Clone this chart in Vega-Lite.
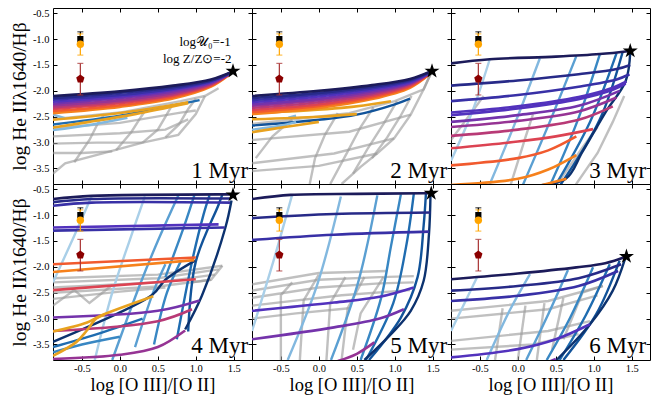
{
"$schema":"https://vega.github.io/schema/vega-lite/v6.json",
"padding":{"left":8,"top":7,"right":0,"bottom":0},
"data":{"values":[
{"p":1,"s":"1r1","k":"g","x":-0.88,"y":-2.55},{"p":1,"s":"1r1","k":"g","x":0,"y":-2.42},{"p":1,"s":"1r1","k":"g","x":0.8,"y":-2.2},{"p":1,"s":"1r1","k":"g","x":1.12,"y":-2.1},{"p":1,"s":"1r1","k":"g","x":1.3,"y":-1.95},
{"p":1,"s":"1r2","k":"g","x":-0.88,"y":-2.72},{"p":1,"s":"1r2","k":"g","x":0,"y":-2.62},{"p":1,"s":"1r2","k":"g","x":0.8,"y":-2.42},{"p":1,"s":"1r2","k":"g","x":1,"y":-2.38},
{"p":1,"s":"1r3","k":"g","x":-0.88,"y":-2.88},{"p":1,"s":"1r3","k":"g","x":0,"y":-2.82},{"p":1,"s":"1r3","k":"g","x":0.6,"y":-2.75},{"p":1,"s":"1r3","k":"g","x":0.9,"y":-2.55},
{"p":1,"s":"1r4","k":"g","x":-0.88,"y":-3.02},{"p":1,"s":"1r4","k":"g","x":-0.3,"y":-3.0},{"p":1,"s":"1r4","k":"g","x":0.3,"y":-3.0},
{"p":1,"s":"1r5","k":"g","x":-0.88,"y":-3.2},{"p":1,"s":"1r5","k":"g","x":-0.5,"y":-3.2},{"p":1,"s":"1r5","k":"g","x":-0.1,"y":-3.17},
{"p":1,"s":"1rb","k":"g","x":-0.88,"y":-3.6},{"p":1,"s":"1rb","k":"g","x":-0.72,"y":-3.4},{"p":1,"s":"1rb","k":"g","x":-0.2,"y":-3.2},{"p":1,"s":"1rb","k":"g","x":0.3,"y":-3.0},{"p":1,"s":"1rb","k":"g","x":0.77,"y":-2.85},{"p":1,"s":"1rb","k":"g","x":1,"y":-2.45},{"p":1,"s":"1rb","k":"g","x":1.12,"y":-2.1},
{"p":1,"s":"1c1","k":"g","x":-0.6,"y":-3.38},{"p":1,"s":"1c1","k":"g","x":-0.4,"y":-2.95},{"p":1,"s":"1c1","k":"g","x":-0.28,"y":-2.6},{"p":1,"s":"1c1","k":"g","x":-0.2,"y":-2.45},
{"p":1,"s":"1c2","k":"g","x":-0.05,"y":-3.15},{"p":1,"s":"1c2","k":"g","x":0.15,"y":-2.8},{"p":1,"s":"1c2","k":"g","x":0.28,"y":-2.5},{"p":1,"s":"1c2","k":"g","x":0.35,"y":-2.35},
{"p":1,"s":"1c3","k":"g","x":0.3,"y":-3.0},{"p":1,"s":"1c3","k":"g","x":0.5,"y":-2.75},{"p":1,"s":"1c3","k":"g","x":0.62,"y":-2.45},{"p":1,"s":"1c3","k":"g","x":0.7,"y":-2.25},
{"p":1,"s":"1c4","k":"g","x":0.6,"y":-2.9},{"p":1,"s":"1c4","k":"g","x":0.78,"y":-2.65},{"p":1,"s":"1c4","k":"g","x":0.9,"y":-2.35},{"p":1,"s":"1c4","k":"g","x":1,"y":-2.15},
{"p":1,"s":"1b1","k":"b5","x":-0.88,"y":-2.65},{"p":1,"s":"1b1","k":"b5","x":0,"y":-2.48},{"p":1,"s":"1b1","k":"b5","x":0.75,"y":-2.27},{"p":1,"s":"1b1","k":"b5","x":1.05,"y":-2.18},
{"p":1,"s":"1b2","k":"b2","x":-0.88,"y":-2.76},{"p":1,"s":"1b2","k":"b2","x":-0.4,"y":-2.66},{"p":1,"s":"1b2","k":"b2","x":0.1,"y":-2.52},
{"p":1,"s":"1b3","k":"b2","x":-0.88,"y":-2.46},{"p":1,"s":"1b3","k":"b2","x":-0.72,"y":-2.53},
{"p":1,"s":"1g1","k":"gold","x":-0.88,"y":-2.56},{"p":1,"s":"1g1","k":"gold","x":0,"y":-2.43},{"p":1,"s":"1g1","k":"gold","x":0.9,"y":-2.22},
{"p":1,"s":"1g2","k":"gold","x":-0.88,"y":-2.71},{"p":1,"s":"1g2","k":"gold","x":-0.4,"y":-2.6},{"p":1,"s":"1g2","k":"gold","x":0.2,"y":-2.45},{"p":1,"s":"1g2","k":"gold","x":0.9,"y":-2.24},
{"p":1,"s":"1u10","k":"u10","x":-0.88,"y":-2.43},{"p":1,"s":"1u10","k":"u10","x":0,"y":-2.31},{"p":1,"s":"1u10","k":"u10","x":0.7,"y":-2.15},{"p":1,"s":"1u10","k":"u10","x":1.2,"y":-1.92},{"p":1,"s":"1u10","k":"u10","x":1.44,"y":-1.69},
{"p":1,"s":"1u9","k":"u9","x":-0.88,"y":-2.39},{"p":1,"s":"1u9","k":"u9","x":0,"y":-2.28},{"p":1,"s":"1u9","k":"u9","x":0.7,"y":-2.12},{"p":1,"s":"1u9","k":"u9","x":1.2,"y":-1.9},{"p":1,"s":"1u9","k":"u9","x":1.44,"y":-1.68},
{"p":1,"s":"1u8","k":"u8","x":-0.88,"y":-2.35},{"p":1,"s":"1u8","k":"u8","x":0,"y":-2.24},{"p":1,"s":"1u8","k":"u8","x":0.7,"y":-2.09},{"p":1,"s":"1u8","k":"u8","x":1.2,"y":-1.89},{"p":1,"s":"1u8","k":"u8","x":1.44,"y":-1.68},
{"p":1,"s":"1u7","k":"u7","x":-0.88,"y":-2.32},{"p":1,"s":"1u7","k":"u7","x":0,"y":-2.21},{"p":1,"s":"1u7","k":"u7","x":0.7,"y":-2.07},{"p":1,"s":"1u7","k":"u7","x":1.2,"y":-1.87},{"p":1,"s":"1u7","k":"u7","x":1.45,"y":-1.67},
{"p":1,"s":"1u6","k":"u6","x":-0.88,"y":-2.28},{"p":1,"s":"1u6","k":"u6","x":0,"y":-2.18},{"p":1,"s":"1u6","k":"u6","x":0.7,"y":-2.04},{"p":1,"s":"1u6","k":"u6","x":1.2,"y":-1.86},{"p":1,"s":"1u6","k":"u6","x":1.45,"y":-1.67},
{"p":1,"s":"1u5","k":"u5","x":-0.88,"y":-2.25},{"p":1,"s":"1u5","k":"u5","x":0,"y":-2.14},{"p":1,"s":"1u5","k":"u5","x":0.7,"y":-2.01},{"p":1,"s":"1u5","k":"u5","x":1.2,"y":-1.84},{"p":1,"s":"1u5","k":"u5","x":1.45,"y":-1.66},
{"p":1,"s":"1u4","k":"u4","x":-0.88,"y":-2.21},{"p":1,"s":"1u4","k":"u4","x":0,"y":-2.11},{"p":1,"s":"1u4","k":"u4","x":0.7,"y":-1.98},{"p":1,"s":"1u4","k":"u4","x":1.2,"y":-1.83},{"p":1,"s":"1u4","k":"u4","x":1.46,"y":-1.66},
{"p":1,"s":"1u3","k":"u3","x":-0.88,"y":-2.17},{"p":1,"s":"1u3","k":"u3","x":0,"y":-2.08},{"p":1,"s":"1u3","k":"u3","x":0.7,"y":-1.96},{"p":1,"s":"1u3","k":"u3","x":1.2,"y":-1.81},{"p":1,"s":"1u3","k":"u3","x":1.46,"y":-1.65},
{"p":1,"s":"1u2","k":"u2","x":-0.88,"y":-2.14},{"p":1,"s":"1u2","k":"u2","x":0,"y":-2.04},{"p":1,"s":"1u2","k":"u2","x":0.7,"y":-1.93},{"p":1,"s":"1u2","k":"u2","x":1.2,"y":-1.8},{"p":1,"s":"1u2","k":"u2","x":1.46,"y":-1.65},
{"p":1,"s":"1u1","k":"u1","x":-0.88,"y":-2.1},{"p":1,"s":"1u1","k":"u1","x":0,"y":-2.01},{"p":1,"s":"1u1","k":"u1","x":0.7,"y":-1.9},{"p":1,"s":"1u1","k":"u1","x":1.2,"y":-1.78},{"p":1,"s":"1u1","k":"u1","x":1.48,"y":-1.63},

{"p":2,"s":"2r1","k":"g","x":-0.88,"y":-2.64},{"p":2,"s":"2r1","k":"g","x":0.4,"y":-2.43},{"p":2,"s":"2r1","k":"g","x":1,"y":-2.2},{"p":2,"s":"2r1","k":"g","x":1.38,"y":-1.97},{"p":2,"s":"2r1","k":"g","x":1.47,"y":-1.68},
{"p":2,"s":"2r2","k":"g","x":-0.88,"y":-2.95},{"p":2,"s":"2r2","k":"g","x":0.4,"y":-2.79},{"p":2,"s":"2r2","k":"g","x":1.21,"y":-2.46},
{"p":2,"s":"2r3","k":"g","x":-0.88,"y":-3.4},{"p":2,"s":"2r3","k":"g","x":0.2,"y":-3.21},{"p":2,"s":"2r3","k":"g","x":0.99,"y":-2.92},
{"p":2,"s":"2r4","k":"g","x":-0.88,"y":-3.55},{"p":2,"s":"2r4","k":"g","x":0,"y":-3.45},{"p":2,"s":"2r4","k":"g","x":0.77,"y":-3.21},
{"p":2,"s":"2rb","k":"g","x":1.47,"y":-1.68},{"p":2,"s":"2rb","k":"g","x":1.38,"y":-1.97},{"p":2,"s":"2rb","k":"g","x":1.21,"y":-2.46},{"p":2,"s":"2rb","k":"g","x":0.99,"y":-2.92},{"p":2,"s":"2rb","k":"g","x":0.77,"y":-3.21},{"p":2,"s":"2rb","k":"g","x":0.55,"y":-3.47},{"p":2,"s":"2rb","k":"g","x":0.3,"y":-3.8},
{"p":2,"s":"2c0","k":"g","x":-0.83,"y":-3.3},{"p":2,"s":"2c0","k":"g","x":-0.61,"y":-2.88},{"p":2,"s":"2c0","k":"g","x":-0.35,"y":-2.55},
{"p":2,"s":"2c1","k":"g","x":-0.12,"y":-3.8},{"p":2,"s":"2c1","k":"g","x":-0.05,"y":-3.3},{"p":2,"s":"2c1","k":"g","x":0.08,"y":-2.85},{"p":2,"s":"2c1","k":"g","x":0.25,"y":-2.43},
{"p":2,"s":"2c2","k":"g","x":0.15,"y":-3.8},{"p":2,"s":"2c2","k":"g","x":0.37,"y":-3.2},{"p":2,"s":"2c2","k":"g","x":0.55,"y":-2.7},{"p":2,"s":"2c2","k":"g","x":0.72,"y":-2.32},
{"p":2,"s":"2c3","k":"g","x":0.45,"y":-3.6},{"p":2,"s":"2c3","k":"g","x":0.65,"y":-3.1},{"p":2,"s":"2c3","k":"g","x":0.86,"y":-2.62},{"p":2,"s":"2c3","k":"g","x":1.03,"y":-2.2},
{"p":2,"s":"2c4","k":"g","x":0.7,"y":-3.3},{"p":2,"s":"2c4","k":"g","x":0.9,"y":-2.9},{"p":2,"s":"2c4","k":"g","x":1.07,"y":-2.5},{"p":2,"s":"2c4","k":"g","x":1.22,"y":-2.1},
{"p":2,"s":"2b1","k":"b6","x":-0.88,"y":-2.67},{"p":2,"s":"2b1","k":"b6","x":0,"y":-2.56},{"p":2,"s":"2b1","k":"b6","x":0.5,"y":-2.46},{"p":2,"s":"2b1","k":"b6","x":1,"y":-2.26},{"p":2,"s":"2b1","k":"b6","x":1.2,"y":-2.15},
{"p":2,"s":"2b2","k":"b2","x":-0.88,"y":-2.75},{"p":2,"s":"2b2","k":"b2","x":-0.45,"y":-2.66},{"p":2,"s":"2b2","k":"b2","x":-0.3,"y":-2.6},
{"p":2,"s":"2b3","k":"b2","x":-0.4,"y":-2.52},{"p":2,"s":"2b3","k":"b2","x":-0.3,"y":-2.48},
{"p":2,"s":"2g1","k":"gold","x":-0.88,"y":-2.43},{"p":2,"s":"2g1","k":"gold","x":0.3,"y":-2.33},{"p":2,"s":"2g1","k":"gold","x":0.95,"y":-2.2},
{"p":2,"s":"2g2","k":"gold","x":-0.88,"y":-2.55},{"p":2,"s":"2g2","k":"gold","x":0,"y":-2.5},{"p":2,"s":"2g2","k":"gold","x":0.5,"y":-2.45},
{"p":2,"s":"2g3","k":"gold","x":-0.88,"y":-2.8},{"p":2,"s":"2g3","k":"gold","x":-0.45,"y":-2.7},{"p":2,"s":"2g3","k":"gold","x":0,"y":-2.6},
{"p":2,"s":"2u10","k":"u10","x":-0.88,"y":-2.45},{"p":2,"s":"2u10","k":"u10","x":0,"y":-2.33},{"p":2,"s":"2u10","k":"u10","x":0.7,"y":-2.16},{"p":2,"s":"2u10","k":"u10","x":1.2,"y":-1.94},{"p":2,"s":"2u10","k":"u10","x":1.44,"y":-1.7},
{"p":2,"s":"2u9","k":"u9","x":-0.88,"y":-2.41},{"p":2,"s":"2u9","k":"u9","x":0,"y":-2.29},{"p":2,"s":"2u9","k":"u9","x":0.7,"y":-2.13},{"p":2,"s":"2u9","k":"u9","x":1.2,"y":-1.92},{"p":2,"s":"2u9","k":"u9","x":1.44,"y":-1.69},
{"p":2,"s":"2u8","k":"u8","x":-0.88,"y":-2.37},{"p":2,"s":"2u8","k":"u8","x":0,"y":-2.26},{"p":2,"s":"2u8","k":"u8","x":0.7,"y":-2.1},{"p":2,"s":"2u8","k":"u8","x":1.2,"y":-1.9},{"p":2,"s":"2u8","k":"u8","x":1.44,"y":-1.68},
{"p":2,"s":"2u7","k":"u7","x":-0.88,"y":-2.33},{"p":2,"s":"2u7","k":"u7","x":0,"y":-2.22},{"p":2,"s":"2u7","k":"u7","x":0.7,"y":-2.07},{"p":2,"s":"2u7","k":"u7","x":1.2,"y":-1.88},{"p":2,"s":"2u7","k":"u7","x":1.45,"y":-1.67},
{"p":2,"s":"2u6","k":"u6","x":-0.88,"y":-2.29},{"p":2,"s":"2u6","k":"u6","x":0,"y":-2.18},{"p":2,"s":"2u6","k":"u6","x":0.7,"y":-2.04},{"p":2,"s":"2u6","k":"u6","x":1.2,"y":-1.86},{"p":2,"s":"2u6","k":"u6","x":1.45,"y":-1.67},
{"p":2,"s":"2u5","k":"u5","x":-0.88,"y":-2.26},{"p":2,"s":"2u5","k":"u5","x":0,"y":-2.15},{"p":2,"s":"2u5","k":"u5","x":0.7,"y":-2.01},{"p":2,"s":"2u5","k":"u5","x":1.2,"y":-1.85},{"p":2,"s":"2u5","k":"u5","x":1.45,"y":-1.66},
{"p":2,"s":"2u4","k":"u4","x":-0.88,"y":-2.22},{"p":2,"s":"2u4","k":"u4","x":0,"y":-2.11},{"p":2,"s":"2u4","k":"u4","x":0.7,"y":-1.98},{"p":2,"s":"2u4","k":"u4","x":1.2,"y":-1.83},{"p":2,"s":"2u4","k":"u4","x":1.46,"y":-1.66},
{"p":2,"s":"2u3","k":"u3","x":-0.88,"y":-2.18},{"p":2,"s":"2u3","k":"u3","x":0,"y":-2.07},{"p":2,"s":"2u3","k":"u3","x":0.7,"y":-1.95},{"p":2,"s":"2u3","k":"u3","x":1.2,"y":-1.81},{"p":2,"s":"2u3","k":"u3","x":1.46,"y":-1.65},
{"p":2,"s":"2u2","k":"u2","x":-0.88,"y":-2.14},{"p":2,"s":"2u2","k":"u2","x":0,"y":-2.04},{"p":2,"s":"2u2","k":"u2","x":0.7,"y":-1.92},{"p":2,"s":"2u2","k":"u2","x":1.2,"y":-1.79},{"p":2,"s":"2u2","k":"u2","x":1.46,"y":-1.64},
{"p":2,"s":"2u1","k":"u1","x":-0.88,"y":-2.1},{"p":2,"s":"2u1","k":"u1","x":0,"y":-2.0},{"p":2,"s":"2u1","k":"u1","x":0.7,"y":-1.89},{"p":2,"s":"2u1","k":"u1","x":1.2,"y":-1.77},{"p":2,"s":"2u1","k":"u1","x":1.48,"y":-1.62},

{"p":3,"s":"3r1","k":"g","x":-0.88,"y":-2.95},{"p":3,"s":"3r1","k":"g","x":-0.55,"y":-2.3},{"p":3,"s":"3r1","k":"g","x":-0.45,"y":-2.1},
{"p":3,"s":"3r2","k":"g","x":-0.1,"y":-3.84},{"p":3,"s":"3r2","k":"g","x":0.1,"y":-2.9},{"p":3,"s":"3r2","k":"g","x":0.2,"y":-2.45},
{"p":3,"s":"3r3","k":"g","x":0.5,"y":-3.84},{"p":3,"s":"3r3","k":"g","x":0.85,"y":-3.1},{"p":3,"s":"3r3","k":"g","x":1.05,"y":-2.7},
{"p":3,"s":"3r4","k":"g","x":0.75,"y":-3.84},{"p":3,"s":"3r4","k":"g","x":1.05,"y":-3.2},{"p":3,"s":"3r4","k":"g","x":1.25,"y":-2.6},{"p":3,"s":"3r4","k":"g","x":1.4,"y":-2.1},
{"p":3,"s":"3b1","k":"b1","x":-0.88,"y":-3.35},{"p":3,"s":"3b1","k":"b1","x":-0.6,"y":-2.4},{"p":3,"s":"3b1","k":"b1","x":-0.37,"y":-1.39},
{"p":3,"s":"3b2","k":"b2","x":-0.38,"y":-3.84},{"p":3,"s":"3b2","k":"b2","x":-0.03,"y":-2.6},{"p":3,"s":"3b2","k":"b2","x":0.29,"y":-1.37},
{"p":3,"s":"3b3","k":"b3","x":0.06,"y":-3.84},{"p":3,"s":"3b3","k":"b3","x":0.42,"y":-2.6},{"p":3,"s":"3b3","k":"b3","x":0.77,"y":-1.33},
{"p":3,"s":"3b4","k":"b4","x":0.42,"y":-3.84},{"p":3,"s":"3b4","k":"b4","x":0.78,"y":-2.6},{"p":3,"s":"3b4","k":"b4","x":1.08,"y":-1.29},
{"p":3,"s":"3b5","k":"b5","x":0.49,"y":-3.84},{"p":3,"s":"3b5","k":"b5","x":0.95,"y":-2.6},{"p":3,"s":"3b5","k":"b5","x":1.3,"y":-1.27},
{"p":3,"s":"3b6","k":"b6","x":0.55,"y":-3.84},{"p":3,"s":"3b6","k":"b6","x":1.08,"y":-2.55},{"p":3,"s":"3b6","k":"b6","x":1.38,"y":-1.25},
{"p":3,"s":"3b7","k":"b7","x":0.17,"y":-3.84},{"p":3,"s":"3b7","k":"b7","x":0.63,"y":-3.7},{"p":3,"s":"3b7","k":"b7","x":0.85,"y":-3.18},{"p":3,"s":"3b7","k":"b7","x":1.16,"y":-2.4},{"p":3,"s":"3b7","k":"b7","x":1.42,"y":-1.81},{"p":3,"s":"3b7","k":"b7","x":1.48,"y":-1.25},
{"p":3,"s":"3u11","k":"u10","x":0.27,"y":-3.84},{"p":3,"s":"3u11","k":"u10","x":0.64,"y":-3.7},
{"p":3,"s":"3u10","k":"u10","x":-0.88,"y":-3.82},{"p":3,"s":"3u10","k":"u10","x":0,"y":-3.7},{"p":3,"s":"3u10","k":"u10","x":0.4,"y":-3.52},{"p":3,"s":"3u10","k":"u10","x":0.77,"y":-3.24},
{"p":3,"s":"3u9","k":"u9","x":-0.88,"y":-3.44},{"p":3,"s":"3u9","k":"u9","x":0,"y":-3.3},{"p":3,"s":"3u9","k":"u9","x":0.4,"y":-3.15},{"p":3,"s":"3u9","k":"u9","x":0.77,"y":-2.88},
{"p":3,"s":"3u8","k":"u8","x":-0.88,"y":-3.11},{"p":3,"s":"3u8","k":"u8","x":0,"y":-2.98},{"p":3,"s":"3u8","k":"u8","x":0.5,"y":-2.88},{"p":3,"s":"3u8","k":"u8","x":0.99,"y":-2.74},
{"p":3,"s":"3u7","k":"u7","x":-0.88,"y":-2.87},{"p":3,"s":"3u7","k":"u7","x":0,"y":-2.75},{"p":3,"s":"3u7","k":"u7","x":0.8,"y":-2.56},{"p":3,"s":"3u7","k":"u7","x":1.25,"y":-2.3},
{"p":3,"s":"3u6","k":"u6","x":-0.88,"y":-2.7},{"p":3,"s":"3u6","k":"u6","x":0,"y":-2.58},{"p":3,"s":"3u6","k":"u6","x":0.8,"y":-2.4},{"p":3,"s":"3u6","k":"u6","x":1.3,"y":-2.13},
{"p":3,"s":"3u5","k":"u5","x":-0.88,"y":-2.6},{"p":3,"s":"3u5","k":"u5","x":0,"y":-2.47},{"p":3,"s":"3u5","k":"u5","x":0.8,"y":-2.29},{"p":3,"s":"3u5","k":"u5","x":1.34,"y":-2.0},
{"p":3,"s":"3u4b","k":"u4","x":-0.88,"y":-2.47},{"p":3,"s":"3u4b","k":"u4","x":0,"y":-2.34},{"p":3,"s":"3u4b","k":"u4","x":0.8,"y":-2.16},{"p":3,"s":"3u4b","k":"u4","x":1.25,"y":-1.98},{"p":3,"s":"3u4b","k":"u4","x":1.42,"y":-1.86},
{"p":3,"s":"3u4","k":"u4","x":-0.88,"y":-2.42},{"p":3,"s":"3u4","k":"u4","x":0,"y":-2.3},{"p":3,"s":"3u4","k":"u4","x":0.8,"y":-2.12},{"p":3,"s":"3u4","k":"u4","x":1.25,"y":-1.94},{"p":3,"s":"3u4","k":"u4","x":1.43,"y":-1.82},
{"p":3,"s":"3u3","k":"u3","x":-0.88,"y":-2.2},{"p":3,"s":"3u3","k":"u3","x":0,"y":-2.08},{"p":3,"s":"3u3","k":"u3","x":0.8,"y":-1.92},{"p":3,"s":"3u3","k":"u3","x":1.3,"y":-1.78},{"p":3,"s":"3u3","k":"u3","x":1.47,"y":-1.68},
{"p":3,"s":"3u2","k":"u2","x":-0.88,"y":-1.9},{"p":3,"s":"3u2","k":"u2","x":0,"y":-1.8},{"p":3,"s":"3u2","k":"u2","x":0.8,"y":-1.68},{"p":3,"s":"3u2","k":"u2","x":1.3,"y":-1.58},{"p":3,"s":"3u2","k":"u2","x":1.48,"y":-1.5},
{"p":3,"s":"3u1","k":"u1","x":-0.88,"y":-1.47},{"p":3,"s":"3u1","k":"u1","x":-0.37,"y":-1.39},{"p":3,"s":"3u1","k":"u1","x":0.5,"y":-1.34},{"p":3,"s":"3u1","k":"u1","x":1.08,"y":-1.29},{"p":3,"s":"3u1","k":"u1","x":1.48,"y":-1.23},

{"p":4,"s":"4r1","k":"g","x":-0.88,"y":-2.22},{"p":4,"s":"4r1","k":"g","x":0.5,"y":-2.15},{"p":4,"s":"4r1","k":"g","x":1.35,"y":-1.98},
{"p":4,"s":"4r2","k":"g","x":-0.88,"y":-2.3},{"p":4,"s":"4r2","k":"g","x":0.5,"y":-2.22},{"p":4,"s":"4r2","k":"g","x":1.3,"y":-2.05},
{"p":4,"s":"4r3","k":"g","x":-0.88,"y":-2.4},{"p":4,"s":"4r3","k":"g","x":0.5,"y":-2.3},{"p":4,"s":"4r3","k":"g","x":1.25,"y":-2.15},
{"p":4,"s":"4r4","k":"g","x":-0.88,"y":-2.5},{"p":4,"s":"4r4","k":"g","x":0.5,"y":-2.38},{"p":4,"s":"4r4","k":"g","x":1.2,"y":-2.25},
{"p":4,"s":"4r5","k":"g","x":-0.88,"y":-2.62},{"p":4,"s":"4r5","k":"g","x":0,"y":-2.48},{"p":4,"s":"4r5","k":"g","x":0.6,"y":-2.4},
{"p":4,"s":"4r6","k":"g","x":-0.88,"y":-2.75},{"p":4,"s":"4r6","k":"g","x":-0.6,"y":-2.45},{"p":4,"s":"4r6","k":"g","x":-0.4,"y":-2.7},{"p":4,"s":"4r6","k":"g","x":-0.1,"y":-2.35},
{"p":4,"s":"4r7","k":"g","x":1.35,"y":-1.98},{"p":4,"s":"4r7","k":"g","x":1.2,"y":-2.25},{"p":4,"s":"4r7","k":"g","x":0.95,"y":-2.3},
{"p":4,"s":"4b1","k":"b1","x":-0.88,"y":-2.3},{"p":4,"s":"4b1","k":"b1","x":-0.6,"y":-1.4},{"p":4,"s":"4b1","k":"b1","x":-0.37,"y":-0.63},
{"p":4,"s":"4b2","k":"b1","x":-0.33,"y":-3.8},{"p":4,"s":"4b2","k":"b1","x":-0.1,"y":-2.5},{"p":4,"s":"4b2","k":"b1","x":0.15,"y":-1.4},{"p":4,"s":"4b2","k":"b1","x":0.33,"y":-0.64},
{"p":4,"s":"4b3","k":"b3","x":-0.1,"y":-3.8},{"p":4,"s":"4b3","k":"b3","x":0.25,"y":-2.4},{"p":4,"s":"4b3","k":"b3","x":0.5,"y":-1.5},{"p":4,"s":"4b3","k":"b3","x":0.77,"y":-0.62},
{"p":4,"s":"4b4","k":"b3","x":0.2,"y":-3.55},{"p":4,"s":"4b4","k":"b3","x":0.45,"y":-2.45},{"p":4,"s":"4b4","k":"b3","x":0.6,"y":-1.95},
{"p":4,"s":"4b5","k":"b4","x":0.45,"y":-3.5},{"p":4,"s":"4b5","k":"b4","x":0.62,"y":-2.5},{"p":4,"s":"4b5","k":"b4","x":0.8,"y":-1.9},
{"p":4,"s":"4b6","k":"b4","x":0.6,"y":-2.2},{"p":4,"s":"4b6","k":"b4","x":0.85,"y":-1.2},{"p":4,"s":"4b6","k":"b4","x":0.98,"y":-0.62},
{"p":4,"s":"4b7","k":"b5","x":0.75,"y":-3.4},{"p":4,"s":"4b7","k":"b5","x":0.95,"y":-1.9},{"p":4,"s":"4b7","k":"b5","x":1.1,"y":-1.0},{"p":4,"s":"4b7","k":"b5","x":1.18,"y":-0.62},
{"p":4,"s":"4b8","k":"b6","x":0.9,"y":-3.25},{"p":4,"s":"4b8","k":"b6","x":1.0,"y":-1.9},{"p":4,"s":"4b8","k":"b6","x":1.3,"y":-0.8},{"p":4,"s":"4b8","k":"b6","x":1.35,"y":-0.6},
{"p":4,"s":"4b9","k":"b7","x":0.86,"y":-3.21},{"p":4,"s":"4b9","k":"b7","x":1.08,"y":-2.56},{"p":4,"s":"4b9","k":"b7","x":1.39,"y":-1.24},{"p":4,"s":"4b9","k":"b7","x":1.47,"y":-0.72},
{"p":4,"s":"4b10","k":"b7","x":-0.88,"y":-3.45},{"p":4,"s":"4b10","k":"b7","x":0.42,"y":-2.55},{"p":4,"s":"4b10","k":"b7","x":0.6,"y":-2.25},{"p":4,"s":"4b10","k":"b7","x":0.99,"y":-1.88},
{"p":4,"s":"4b11","k":"b5","x":-0.88,"y":-3.55},{"p":4,"s":"4b11","k":"b5","x":-0.3,"y":-3.3},{"p":4,"s":"4b11","k":"b5","x":0.3,"y":-3.0},
{"p":4,"s":"4b12","k":"b4","x":-0.88,"y":-3.65},{"p":4,"s":"4b12","k":"b4","x":-0.5,"y":-3.5},{"p":4,"s":"4b12","k":"b4","x":0,"y":-3.35},
{"p":4,"s":"4u6","k":"u6","x":-0.88,"y":-3.78},{"p":4,"s":"4u6","k":"u6","x":0,"y":-3.7},{"p":4,"s":"4u6","k":"u6","x":0.5,"y":-3.55},{"p":4,"s":"4u6","k":"u6","x":0.86,"y":-3.23},
{"p":4,"s":"4u7","k":"u7","x":-0.88,"y":-3.24},{"p":4,"s":"4u7","k":"u7","x":0.5,"y":-3.05},{"p":4,"s":"4u7","k":"u7","x":0.95,"y":-2.82},
{"p":4,"s":"4u5","k":"u5","x":-0.88,"y":-2.98},{"p":4,"s":"4u5","k":"u5","x":0.5,"y":-2.85},{"p":4,"s":"4u5","k":"u5","x":1.05,"y":-2.65},
{"p":4,"s":"4g1","k":"gold","x":-0.88,"y":-3.25},{"p":4,"s":"4g1","k":"gold","x":-0.44,"y":-3.08},{"p":4,"s":"4g1","k":"gold","x":-0.26,"y":-2.95},{"p":4,"s":"4g1","k":"gold","x":0.44,"y":-2.57},
{"p":4,"s":"4g2","k":"gold","x":-0.88,"y":-3.72},{"p":4,"s":"4g2","k":"gold","x":-0.57,"y":-3.45},{"p":4,"s":"4g2","k":"gold","x":-0.44,"y":-3.24},{"p":4,"s":"4g2","k":"gold","x":-0.31,"y":-3.0},{"p":4,"s":"4g2","k":"gold","x":-0.2,"y":-2.92},
{"p":4,"s":"4u8","k":"u8","x":-0.88,"y":-2.45},{"p":4,"s":"4u8","k":"u8","x":1.0,"y":-2.24},
{"p":4,"s":"4u10","k":"u10","x":-0.88,"y":-2.1},{"p":4,"s":"4u10","k":"u10","x":0.98,"y":-1.87},
{"p":4,"s":"4u9","k":"u9","x":-0.88,"y":-1.95},{"p":4,"s":"4u9","k":"u9","x":1.0,"y":-1.82},
{"p":4,"s":"4u4b","k":"u3","x":-0.88,"y":-1.3},{"p":4,"s":"4u4b","k":"u3","x":1.38,"y":-1.24},
{"p":4,"s":"4u4","k":"u4","x":-0.88,"y":-1.24},{"p":4,"s":"4u4","k":"u4","x":1.3,"y":-1.18},
{"p":4,"s":"4u3","k":"u3","x":-0.88,"y":-0.82},{"p":4,"s":"4u3","k":"u3","x":-0.37,"y":-0.76},{"p":4,"s":"4u3","k":"u3","x":1.45,"y":-0.76},
{"p":4,"s":"4u2","k":"u2","x":-0.88,"y":-0.75},{"p":4,"s":"4u2","k":"u2","x":-0.37,"y":-0.69},{"p":4,"s":"4u2","k":"u2","x":1.45,"y":-0.68},
{"p":4,"s":"4u1","k":"u1","x":-0.88,"y":-0.69},{"p":4,"s":"4u1","k":"u1","x":-0.37,"y":-0.63},{"p":4,"s":"4u1","k":"u1","x":1.43,"y":-0.6},{"p":4,"s":"4u1","k":"u1","x":1.48,"y":-0.6},

{"p":5,"s":"5r1","k":"g","x":-0.88,"y":-2.34},{"p":5,"s":"5r1","k":"g","x":0,"y":-2.12},{"p":5,"s":"5r1","k":"g","x":0.9,"y":-2.08},
{"p":5,"s":"5r2","k":"g","x":-0.88,"y":-2.46},{"p":5,"s":"5r2","k":"g","x":0,"y":-2.25},{"p":5,"s":"5r2","k":"g","x":0.8,"y":-2.2},{"p":5,"s":"5r2","k":"g","x":1.25,"y":-2.18},
{"p":5,"s":"5r3","k":"g","x":-0.88,"y":-2.6},{"p":5,"s":"5r3","k":"g","x":0,"y":-2.4},{"p":5,"s":"5r3","k":"g","x":0.8,"y":-2.32},{"p":5,"s":"5r3","k":"g","x":1.25,"y":-2.3},
{"p":5,"s":"5r4","k":"g","x":-0.88,"y":-2.75},{"p":5,"s":"5r4","k":"g","x":0.3,"y":-2.55},{"p":5,"s":"5r4","k":"g","x":1.2,"y":-2.45},
{"p":5,"s":"5r5","k":"g","x":-0.88,"y":-3.0},{"p":5,"s":"5r5","k":"g","x":-0.3,"y":-2.9},{"p":5,"s":"5r5","k":"g","x":0.4,"y":-2.8},
{"p":5,"s":"5c1","k":"g","x":-0.5,"y":-3.8},{"p":5,"s":"5c1","k":"g","x":-0.5,"y":-2.55},{"p":5,"s":"5c1","k":"g","x":-0.35,"y":-2.3},
{"p":5,"s":"5c2","k":"g","x":-0.25,"y":-3.8},{"p":5,"s":"5c2","k":"g","x":-0.2,"y":-2.65},{"p":5,"s":"5c2","k":"g","x":0,"y":-2.15},
{"p":5,"s":"5c3","k":"g","x":0.1,"y":-3.8},{"p":5,"s":"5c3","k":"g","x":0.15,"y":-2.7},{"p":5,"s":"5c3","k":"g","x":0.35,"y":-2.2},
{"p":5,"s":"5c4","k":"g","x":0.3,"y":-3.8},{"p":5,"s":"5c4","k":"g","x":0.38,"y":-2.8},{"p":5,"s":"5c4","k":"g","x":0.6,"y":-2.2},
{"p":5,"s":"5c5","k":"g","x":0.45,"y":-3.6},{"p":5,"s":"5c5","k":"g","x":0.55,"y":-2.9},{"p":5,"s":"5c5","k":"g","x":0.85,"y":-2.2},
{"p":5,"s":"5b1","k":"b1","x":-0.88,"y":-3.24},{"p":5,"s":"5b1","k":"b1","x":-0.6,"y":-1.9},{"p":5,"s":"5b1","k":"b1","x":-0.35,"y":-0.6},
{"p":5,"s":"5b2","k":"b2","x":-0.41,"y":-3.8},{"p":5,"s":"5b2","k":"b2","x":-0.02,"y":-2.34},{"p":5,"s":"5b2","k":"b2","x":0.29,"y":-0.64},
{"p":5,"s":"5b3","k":"b3","x":0.16,"y":-3.8},{"p":5,"s":"5b3","k":"b3","x":0.51,"y":-2.34},{"p":5,"s":"5b3","k":"b3","x":0.77,"y":-0.62},
{"p":5,"s":"5b4","k":"b4","x":0.55,"y":-3.8},{"p":5,"s":"5b4","k":"b4","x":0.82,"y":-2.6},{"p":5,"s":"5b4","k":"b4","x":0.95,"y":-1.6},{"p":5,"s":"5b4","k":"b4","x":1.08,"y":-0.6},
{"p":5,"s":"5b5","k":"b5","x":0.62,"y":-3.8},{"p":5,"s":"5b5","k":"b5","x":0.98,"y":-2.7},{"p":5,"s":"5b5","k":"b5","x":1.15,"y":-1.6},{"p":5,"s":"5b5","k":"b5","x":1.25,"y":-0.59},
{"p":5,"s":"5b6","k":"b6","x":0.66,"y":-3.8},{"p":5,"s":"5b6","k":"b6","x":1.08,"y":-2.98},{"p":5,"s":"5b6","k":"b6","x":1.3,"y":-2.2},{"p":5,"s":"5b6","k":"b6","x":1.38,"y":-1.2},{"p":5,"s":"5b6","k":"b6","x":1.41,"y":-0.58},
{"p":5,"s":"5b7","k":"b7","x":0.6,"y":-3.8},{"p":5,"s":"5b7","k":"b7","x":0.95,"y":-3.3},{"p":5,"s":"5b7","k":"b7","x":1.21,"y":-2.85},{"p":5,"s":"5b7","k":"b7","x":1.38,"y":-2.27},{"p":5,"s":"5b7","k":"b7","x":1.45,"y":-1.37},{"p":5,"s":"5b7","k":"b7","x":1.47,"y":-0.6},
{"p":5,"s":"5u6","k":"u6","x":0.25,"y":-3.82},{"p":5,"s":"5u6","k":"u6","x":0.5,"y":-3.68},{"p":5,"s":"5u6","k":"u6","x":0.73,"y":-3.46},
{"p":5,"s":"5u5","k":"u5","x":-0.88,"y":-3.4},{"p":5,"s":"5u5","k":"u5","x":0.2,"y":-3.17},{"p":5,"s":"5u5","k":"u5","x":0.8,"y":-3.0},{"p":5,"s":"5u5","k":"u5","x":1.12,"y":-2.82},
{"p":5,"s":"5u4","k":"u4","x":-0.88,"y":-2.85},{"p":5,"s":"5u4","k":"u4","x":0.2,"y":-2.69},{"p":5,"s":"5u4","k":"u4","x":0.8,"y":-2.58},{"p":5,"s":"5u4","k":"u4","x":1.25,"y":-2.4},
{"p":5,"s":"5u3","k":"u3","x":-0.88,"y":-1.48},{"p":5,"s":"5u3","k":"u3","x":0.2,"y":-1.38},{"p":5,"s":"5u3","k":"u3","x":1.45,"y":-1.32},
{"p":5,"s":"5u2","k":"u2","x":-0.88,"y":-1.06},{"p":5,"s":"5u2","k":"u2","x":0.2,"y":-0.98},{"p":5,"s":"5u2","k":"u2","x":1.47,"y":-0.95},
{"p":5,"s":"5u1","k":"u1","x":-0.88,"y":-0.69},{"p":5,"s":"5u1","k":"u1","x":-0.37,"y":-0.61},{"p":5,"s":"5u1","k":"u1","x":0.5,"y":-0.59},{"p":5,"s":"5u1","k":"u1","x":1.38,"y":-0.58},{"p":5,"s":"5u1","k":"u1","x":1.47,"y":-0.58},

{"p":6,"s":"6r1","k":"g","x":-0.88,"y":-2.85},{"p":6,"s":"6r1","k":"g","x":0.4,"y":-2.66},{"p":6,"s":"6r1","k":"g","x":1.12,"y":-2.37},
{"p":6,"s":"6r2","k":"g","x":-0.88,"y":-3.0},{"p":6,"s":"6r2","k":"g","x":0.4,"y":-2.82},{"p":6,"s":"6r2","k":"g","x":1.05,"y":-2.55},
{"p":6,"s":"6r3","k":"g","x":-0.88,"y":-3.43},{"p":6,"s":"6r3","k":"g","x":0.4,"y":-3.24},{"p":6,"s":"6r3","k":"g","x":0.95,"y":-3.05},
{"p":6,"s":"6r4","k":"g","x":-0.88,"y":-3.6},{"p":6,"s":"6r4","k":"g","x":0.2,"y":-3.5},{"p":6,"s":"6r4","k":"g","x":0.8,"y":-3.3},
{"p":6,"s":"6c1","k":"g","x":-0.3,"y":-3.8},{"p":6,"s":"6c1","k":"g","x":-0.2,"y":-2.8},
{"p":6,"s":"6c2","k":"g","x":0,"y":-3.8},{"p":6,"s":"6c2","k":"g","x":0.1,"y":-2.75},
{"p":6,"s":"6c3","k":"g","x":0.25,"y":-3.8},{"p":6,"s":"6c3","k":"g","x":0.35,"y":-2.7},
{"p":6,"s":"6c4","k":"g","x":0.45,"y":-3.6},{"p":6,"s":"6c4","k":"g","x":0.6,"y":-2.6},
{"p":6,"s":"6c5","k":"g","x":0.6,"y":-3.4},{"p":6,"s":"6c5","k":"g","x":0.85,"y":-2.5},{"p":6,"s":"6c5","k":"g","x":1.12,"y":-2.37},
{"p":6,"s":"6b1","k":"b1","x":-0.88,"y":-3.24},{"p":6,"s":"6b1","k":"b1","x":-0.54,"y":-2.21},
{"p":6,"s":"6b2","k":"b2","x":-0.41,"y":-3.8},{"p":6,"s":"6b2","k":"b2","x":-0.11,"y":-2.85},{"p":6,"s":"6b2","k":"b2","x":0.16,"y":-2.14},
{"p":6,"s":"6b3","k":"b3","x":0.11,"y":-3.8},{"p":6,"s":"6b3","k":"b3","x":0.38,"y":-2.98},{"p":6,"s":"6b3","k":"b3","x":0.66,"y":-2.06},
{"p":6,"s":"6b4","k":"b4","x":0.38,"y":-3.8},{"p":6,"s":"6b4","k":"b4","x":0.69,"y":-2.98},{"p":6,"s":"6b4","k":"b4","x":0.99,"y":-2.01},
{"p":6,"s":"6b5","k":"b5","x":0.55,"y":-3.8},{"p":6,"s":"6b5","k":"b5","x":0.9,"y":-2.92},{"p":6,"s":"6b5","k":"b5","x":1.21,"y":-1.95},
{"p":6,"s":"6b6","k":"b6","x":0.6,"y":-3.8},{"p":6,"s":"6b6","k":"b6","x":1.03,"y":-2.92},{"p":6,"s":"6b6","k":"b6","x":1.34,"y":-1.88},
{"p":6,"s":"6b7","k":"b7","x":0.51,"y":-3.8},{"p":6,"s":"6b7","k":"b7","x":0.95,"y":-3.11},{"p":6,"s":"6b7","k":"b7","x":1.25,"y":-2.46},{"p":6,"s":"6b7","k":"b7","x":1.41,"y":-1.85},
{"p":6,"s":"6u5","k":"u5","x":0.4,"y":-3.84},{"p":6,"s":"6u5","k":"u5","x":0.5,"y":-3.78},
{"p":6,"s":"6u4","k":"u4","x":-0.88,"y":-3.75},{"p":6,"s":"6u4","k":"u4","x":0,"y":-3.59},{"p":6,"s":"6u4","k":"u4","x":0.5,"y":-3.4},{"p":6,"s":"6u4","k":"u4","x":0.95,"y":-3.11},
{"p":6,"s":"6u3","k":"u3","x":-0.88,"y":-2.66},{"p":6,"s":"6u3","k":"u3","x":0,"y":-2.56},{"p":6,"s":"6u3","k":"u3","x":0.8,"y":-2.37},{"p":6,"s":"6u3","k":"u3","x":1.32,"y":-2.08},
{"p":6,"s":"6u2","k":"u2","x":-0.88,"y":-2.46},{"p":6,"s":"6u2","k":"u2","x":0,"y":-2.37},{"p":6,"s":"6u2","k":"u2","x":0.8,"y":-2.22},{"p":6,"s":"6u2","k":"u2","x":1.36,"y":-1.95},
{"p":6,"s":"6u1","k":"u1","x":-0.88,"y":-2.24},{"p":6,"s":"6u1","k":"u1","x":0,"y":-2.13},{"p":6,"s":"6u1","k":"u1","x":0.77,"y":-2.01},{"p":6,"s":"6u1","k":"u1","x":1.15,"y":-1.93},{"p":6,"s":"6u1","k":"u1","x":1.43,"y":-1.8},

{"p":1,"t":"e","k":"ek","x":-0.52,"y":-1.05,"hi":-0.86},{"p":1,"t":"e","k":"eo","x":-0.52,"y":-1.31,"hi":-0.9},{"p":1,"t":"e","k":"er","x":-0.52,"y":-2.08,"hi":-1.47},
{"p":1,"t":"c","k":"ek","x":-0.52,"y":-0.86},{"p":1,"t":"c","k":"eo","x":-0.52,"y":-0.9},{"p":1,"t":"c","k":"eo","x":-0.52,"y":-1.31},{"p":1,"t":"c","k":"er","x":-0.52,"y":-1.47},{"p":1,"t":"c","k":"er","x":-0.52,"y":-2.08},
{"p":1,"t":"m","m":"sq","x":-0.52,"y":-1.0},{"p":1,"t":"m","m":"ci","x":-0.52,"y":-1.1},{"p":1,"t":"m","m":"pe","x":-0.52,"y":-1.77},
{"p":2,"t":"e","k":"ek","x":-0.52,"y":-1.05,"hi":-0.86},{"p":2,"t":"e","k":"eo","x":-0.52,"y":-1.31,"hi":-0.9},{"p":2,"t":"e","k":"er","x":-0.52,"y":-2.08,"hi":-1.47},
{"p":2,"t":"c","k":"ek","x":-0.52,"y":-0.86},{"p":2,"t":"c","k":"eo","x":-0.52,"y":-0.9},{"p":2,"t":"c","k":"eo","x":-0.52,"y":-1.31},{"p":2,"t":"c","k":"er","x":-0.52,"y":-1.47},{"p":2,"t":"c","k":"er","x":-0.52,"y":-2.08},
{"p":2,"t":"m","m":"sq","x":-0.52,"y":-1.0},{"p":2,"t":"m","m":"ci","x":-0.52,"y":-1.1},{"p":2,"t":"m","m":"pe","x":-0.52,"y":-1.77},
{"p":3,"t":"e","k":"ek","x":-0.52,"y":-1.05,"hi":-0.86},{"p":3,"t":"e","k":"eo","x":-0.52,"y":-1.31,"hi":-0.9},{"p":3,"t":"e","k":"er","x":-0.52,"y":-2.08,"hi":-1.47},
{"p":3,"t":"c","k":"ek","x":-0.52,"y":-0.86},{"p":3,"t":"c","k":"eo","x":-0.52,"y":-0.9},{"p":3,"t":"c","k":"eo","x":-0.52,"y":-1.31},{"p":3,"t":"c","k":"er","x":-0.52,"y":-1.47},{"p":3,"t":"c","k":"er","x":-0.52,"y":-2.08},
{"p":3,"t":"m","m":"sq","x":-0.52,"y":-1.0},{"p":3,"t":"m","m":"ci","x":-0.52,"y":-1.1},{"p":3,"t":"m","m":"pe","x":-0.52,"y":-1.77},
{"p":4,"t":"e","k":"ek","x":-0.52,"y":-1.05,"hi":-0.86},{"p":4,"t":"e","k":"eo","x":-0.52,"y":-1.31,"hi":-0.9},{"p":4,"t":"e","k":"er","x":-0.52,"y":-2.08,"hi":-1.47},
{"p":4,"t":"c","k":"ek","x":-0.52,"y":-0.86},{"p":4,"t":"c","k":"eo","x":-0.52,"y":-0.9},{"p":4,"t":"c","k":"eo","x":-0.52,"y":-1.31},{"p":4,"t":"c","k":"er","x":-0.52,"y":-1.47},{"p":4,"t":"c","k":"er","x":-0.52,"y":-2.08},
{"p":4,"t":"m","m":"sq","x":-0.52,"y":-1.0},{"p":4,"t":"m","m":"ci","x":-0.52,"y":-1.1},{"p":4,"t":"m","m":"pe","x":-0.52,"y":-1.77},
{"p":5,"t":"e","k":"ek","x":-0.52,"y":-1.05,"hi":-0.86},{"p":5,"t":"e","k":"eo","x":-0.52,"y":-1.31,"hi":-0.9},{"p":5,"t":"e","k":"er","x":-0.52,"y":-2.08,"hi":-1.47},
{"p":5,"t":"c","k":"ek","x":-0.52,"y":-0.86},{"p":5,"t":"c","k":"eo","x":-0.52,"y":-0.9},{"p":5,"t":"c","k":"eo","x":-0.52,"y":-1.31},{"p":5,"t":"c","k":"er","x":-0.52,"y":-1.47},{"p":5,"t":"c","k":"er","x":-0.52,"y":-2.08},
{"p":5,"t":"m","m":"sq","x":-0.52,"y":-1.0},{"p":5,"t":"m","m":"ci","x":-0.52,"y":-1.1},{"p":5,"t":"m","m":"pe","x":-0.52,"y":-1.77},
{"p":6,"t":"e","k":"ek","x":-0.52,"y":-1.05,"hi":-0.86},{"p":6,"t":"e","k":"eo","x":-0.52,"y":-1.31,"hi":-0.9},{"p":6,"t":"e","k":"er","x":-0.52,"y":-2.08,"hi":-1.47},
{"p":6,"t":"c","k":"ek","x":-0.52,"y":-0.86},{"p":6,"t":"c","k":"eo","x":-0.52,"y":-0.9},{"p":6,"t":"c","k":"eo","x":-0.52,"y":-1.31},{"p":6,"t":"c","k":"er","x":-0.52,"y":-1.47},{"p":6,"t":"c","k":"er","x":-0.52,"y":-2.08},
{"p":6,"t":"m","m":"sq","x":-0.52,"y":-1.0},{"p":6,"t":"m","m":"ci","x":-0.52,"y":-1.1},{"p":6,"t":"m","m":"pe","x":-0.52,"y":-1.77},
{"p":1,"t":"s","x":1.49,"y":-1.62},{"p":2,"t":"s","x":1.49,"y":-1.62},{"p":3,"t":"s","x":1.48,"y":-1.23},{"p":4,"t":"s","x":1.49,"y":-0.61},{"p":5,"t":"s","x":1.48,"y":-0.58},{"p":6,"t":"s","x":1.43,"y":-1.8},
{"p":1,"t":"L","txt":"1 Myr","x":1.69,"y":-3.68},{"p":2,"t":"L","txt":"2 Myr","x":1.69,"y":-3.68},{"p":3,"t":"L","txt":"3 Myr","x":1.69,"y":-3.68},
{"p":4,"t":"L","txt":"4 Myr","x":1.69,"y":-3.67},{"p":5,"t":"L","txt":"5 Myr","x":1.69,"y":-3.67},{"p":6,"t":"L","txt":"6 Myr","x":1.69,"y":-3.67},
{"p":1,"t":"A","txt":"log𝒰₀=-1","x":1.46,"y":-1.13},{"p":1,"t":"A","txt":"log Z/Z⊙=-2","x":1.47,"y":-1.455}
]},
"columns":3,
"spacing":0,
"bounds":"flush",
"concat":[
{"width":199,"height":176,"transform":[{"filter":"datum.p==1"}],
"resolve":{"axis":{"x":"independent","y":"independent"}},
"encoding":{
"x":{"field":"x","type":"quantitative","scale":{"domain":[-0.88,1.74],"nice":false,"zero":false},"axis":null},
"y":{"field":"y","type":"quantitative","scale":{"domain":[-3.8,-0.4],"nice":false,"zero":false},"axis":null},
"color":{"field":"k","type":"nominal","legend":null,"scale":{"domain":["u1","u2","u3","u4","u5","u6","u7","u8","u9","u10","gold","b1","b2","b3","b4","b5","b6","b7","g","ek","eo","er"],"range":["#1c1b5a","#272a88","#3830a6","#5232bd","#7433ab","#963494","#b83a76","#dc4352","#f15a2e","#f6811c","#e8a21f","#a9cfe8","#82b8df","#5a9fd2","#3887c3","#1f6cb0","#11539a","#0c326f","#9a9a9a","#000000","#ffa500","#a83232"]}}},
"layer":[
{"transform":[{"filter":"datum.k=='g'"}],"mark":{"type":"line","strokeWidth":2.4,"opacity":0.62,"clip":true},"encoding":{"detail":{"field":"s"},"order":{"value":null},
"x":{"field":"x","type":"quantitative","scale":{"domain":[-0.88,1.74],"nice":false,"zero":false},"axis":{"orient":"bottom","title":null,"labels":false,"values":[-0.5,0,0.5,1,1.5]}},
"y":{"field":"y","type":"quantitative","scale":{"domain":[-3.8,-0.4],"nice":false,"zero":false},"axis":{"orient":"left","title":"log He IIλ1640/Hβ","values":[-3.5,-3,-2.5,-2,-1.5,-1,-0.5],"format":".1f","labelExpr":"replace(datum.label,'−','-')"}}}},
{"transform":[{"filter":"isValid(datum.s)&&indexof(datum.k,'b')==0"}],"mark":{"type":"line","strokeWidth":2.4,"clip":true,"interpolate":"catmull-rom"},"encoding":{"detail":{"field":"s"},"order":{"value":null}}},
{"transform":[{"filter":"isValid(datum.s)&&datum.k!='g'&&indexof(datum.k,'b')!=0"}],"mark":{"type":"line","strokeWidth":2.6,"clip":true,"interpolate":"catmull-rom"},"encoding":{"detail":{"field":"s"},"order":{"value":null}}},
{"transform":[{"filter":"datum.t=='e'"}],"mark":{"type":"rule","strokeWidth":1.2},"encoding":{"y2":{"field":"hi"}}},
{"transform":[{"filter":"datum.t=='c'"}],"mark":{"type":"tick","orient":"horizontal","size":6,"thickness":1.2}},
{"transform":[{"filter":"datum.m=='sq'"}],"mark":{"type":"point","shape":"square","filled":true,"size":38,"opacity":1},"encoding":{"color":{"value":"#000"}}},
{"transform":[{"filter":"datum.m=='ci'"}],"mark":{"type":"point","shape":"circle","filled":true,"size":55,"opacity":1},"encoding":{"color":{"value":"#ffa500"}}},
{"transform":[{"filter":"datum.m=='pe'"}],"mark":{"type":"point","shape":"M0,-1L0.951,-0.309L0.588,0.809L-0.588,0.809L-0.951,-0.309Z","filled":true,"size":75,"opacity":1},"encoding":{"color":{"value":"#8b0000"}}},
{"transform":[{"filter":"datum.t=='s'"}],"mark":{"type":"point","shape":"M0,-1L0.2245,-0.309L0.951,-0.309L0.363,0.118L0.588,0.809L0,0.382L-0.588,0.809L-0.363,0.118L-0.951,-0.309L-0.2245,-0.309Z","filled":true,"size":250,"opacity":1},"encoding":{"color":{"value":"#000"},
"x":{"field":"x","type":"quantitative","scale":{"domain":[-0.88,1.74],"nice":false,"zero":false},"axis":{"orient":"top","title":null,"labels":false,"values":[-0.5,0,0.5,1,1.5]}},
"y":{"field":"y","type":"quantitative","scale":{"domain":[-3.8,-0.4],"nice":false,"zero":false},"axis":{"orient":"right","title":null,"labels":false,"values":[-3.5,-3,-2.5,-2,-1.5,-1,-0.5]}}}},
{"transform":[{"filter":"datum.t=='L'"}],"mark":{"type":"text","align":"right","baseline":"alphabetic","font":"Liberation Serif","fontSize":23},"encoding":{"text":{"field":"txt"},"color":{"value":"#000"}}},
{"transform":[{"filter":"datum.t=='A'"}],"mark":{"type":"text","align":"right","baseline":"alphabetic","font":"Liberation Serif","fontSize":13},"encoding":{"text":{"field":"txt"},"color":{"value":"#000"}}}
]},
{"width":199,"height":176,"transform":[{"filter":"datum.p==2"}],
"resolve":{"axis":{"x":"independent","y":"independent"}},
"encoding":{
"x":{"field":"x","type":"quantitative","scale":{"domain":[-0.88,1.74],"nice":false,"zero":false},"axis":null},
"y":{"field":"y","type":"quantitative","scale":{"domain":[-3.8,-0.4],"nice":false,"zero":false},"axis":null},
"color":{"field":"k","type":"nominal","legend":null,"scale":{"domain":["u1","u2","u3","u4","u5","u6","u7","u8","u9","u10","gold","b1","b2","b3","b4","b5","b6","b7","g","ek","eo","er"],"range":["#1c1b5a","#272a88","#3830a6","#5232bd","#7433ab","#963494","#b83a76","#dc4352","#f15a2e","#f6811c","#e8a21f","#a9cfe8","#82b8df","#5a9fd2","#3887c3","#1f6cb0","#11539a","#0c326f","#9a9a9a","#000000","#ffa500","#a83232"]}}},
"layer":[
{"transform":[{"filter":"datum.k=='g'"}],"mark":{"type":"line","strokeWidth":2.4,"opacity":0.62,"clip":true},"encoding":{"detail":{"field":"s"},"order":{"value":null},
"x":{"field":"x","type":"quantitative","scale":{"domain":[-0.88,1.74],"nice":false,"zero":false},"axis":{"orient":"bottom","title":null,"labels":false,"values":[-0.5,0,0.5,1,1.5]}},
"y":{"field":"y","type":"quantitative","scale":{"domain":[-3.8,-0.4],"nice":false,"zero":false},"axis":{"orient":"left","title":null,"labels":false,"values":[-3.5,-3,-2.5,-2,-1.5,-1,-0.5]}}}},
{"transform":[{"filter":"isValid(datum.s)&&indexof(datum.k,'b')==0"}],"mark":{"type":"line","strokeWidth":2.4,"clip":true,"interpolate":"catmull-rom"},"encoding":{"detail":{"field":"s"},"order":{"value":null}}},
{"transform":[{"filter":"isValid(datum.s)&&datum.k!='g'&&indexof(datum.k,'b')!=0"}],"mark":{"type":"line","strokeWidth":2.6,"clip":true,"interpolate":"catmull-rom"},"encoding":{"detail":{"field":"s"},"order":{"value":null}}},
{"transform":[{"filter":"datum.t=='e'"}],"mark":{"type":"rule","strokeWidth":1.2},"encoding":{"y2":{"field":"hi"}}},
{"transform":[{"filter":"datum.t=='c'"}],"mark":{"type":"tick","orient":"horizontal","size":6,"thickness":1.2}},
{"transform":[{"filter":"datum.m=='sq'"}],"mark":{"type":"point","shape":"square","filled":true,"size":38,"opacity":1},"encoding":{"color":{"value":"#000"}}},
{"transform":[{"filter":"datum.m=='ci'"}],"mark":{"type":"point","shape":"circle","filled":true,"size":55,"opacity":1},"encoding":{"color":{"value":"#ffa500"}}},
{"transform":[{"filter":"datum.m=='pe'"}],"mark":{"type":"point","shape":"M0,-1L0.951,-0.309L0.588,0.809L-0.588,0.809L-0.951,-0.309Z","filled":true,"size":75,"opacity":1},"encoding":{"color":{"value":"#8b0000"}}},
{"transform":[{"filter":"datum.t=='s'"}],"mark":{"type":"point","shape":"M0,-1L0.2245,-0.309L0.951,-0.309L0.363,0.118L0.588,0.809L0,0.382L-0.588,0.809L-0.363,0.118L-0.951,-0.309L-0.2245,-0.309Z","filled":true,"size":250,"opacity":1},"encoding":{"color":{"value":"#000"},
"x":{"field":"x","type":"quantitative","scale":{"domain":[-0.88,1.74],"nice":false,"zero":false},"axis":{"orient":"top","title":null,"labels":false,"values":[-0.5,0,0.5,1,1.5]}},
"y":{"field":"y","type":"quantitative","scale":{"domain":[-3.8,-0.4],"nice":false,"zero":false},"axis":{"orient":"right","title":null,"labels":false,"values":[-3.5,-3,-2.5,-2,-1.5,-1,-0.5]}}}},
{"transform":[{"filter":"datum.t=='L'"}],"mark":{"type":"text","align":"right","baseline":"alphabetic","font":"Liberation Serif","fontSize":23},"encoding":{"text":{"field":"txt"},"color":{"value":"#000"}}}
]},
{"width":199,"height":176,"transform":[{"filter":"datum.p==3"}],
"resolve":{"axis":{"x":"independent","y":"independent"}},
"encoding":{
"x":{"field":"x","type":"quantitative","scale":{"domain":[-0.88,1.74],"nice":false,"zero":false},"axis":null},
"y":{"field":"y","type":"quantitative","scale":{"domain":[-3.8,-0.4],"nice":false,"zero":false},"axis":null},
"color":{"field":"k","type":"nominal","legend":null,"scale":{"domain":["u1","u2","u3","u4","u5","u6","u7","u8","u9","u10","gold","b1","b2","b3","b4","b5","b6","b7","g","ek","eo","er"],"range":["#1c1b5a","#272a88","#3830a6","#5232bd","#7433ab","#963494","#b83a76","#dc4352","#f15a2e","#f6811c","#e8a21f","#a9cfe8","#82b8df","#5a9fd2","#3887c3","#1f6cb0","#11539a","#0c326f","#9a9a9a","#000000","#ffa500","#a83232"]}}},
"layer":[
{"transform":[{"filter":"datum.k=='g'"}],"mark":{"type":"line","strokeWidth":2.4,"opacity":0.62,"clip":true},"encoding":{"detail":{"field":"s"},"order":{"value":null},
"x":{"field":"x","type":"quantitative","scale":{"domain":[-0.88,1.74],"nice":false,"zero":false},"axis":{"orient":"bottom","title":null,"labels":false,"values":[-0.5,0,0.5,1,1.5]}},
"y":{"field":"y","type":"quantitative","scale":{"domain":[-3.8,-0.4],"nice":false,"zero":false},"axis":{"orient":"left","title":null,"labels":false,"values":[-3.5,-3,-2.5,-2,-1.5,-1,-0.5]}}}},
{"transform":[{"filter":"isValid(datum.s)&&indexof(datum.k,'b')==0"}],"mark":{"type":"line","strokeWidth":2.4,"clip":true,"interpolate":"catmull-rom"},"encoding":{"detail":{"field":"s"},"order":{"value":null}}},
{"transform":[{"filter":"isValid(datum.s)&&datum.k!='g'&&indexof(datum.k,'b')!=0"}],"mark":{"type":"line","strokeWidth":2.6,"clip":true,"interpolate":"catmull-rom"},"encoding":{"detail":{"field":"s"},"order":{"value":null}}},
{"transform":[{"filter":"datum.t=='e'"}],"mark":{"type":"rule","strokeWidth":1.2},"encoding":{"y2":{"field":"hi"}}},
{"transform":[{"filter":"datum.t=='c'"}],"mark":{"type":"tick","orient":"horizontal","size":6,"thickness":1.2}},
{"transform":[{"filter":"datum.m=='sq'"}],"mark":{"type":"point","shape":"square","filled":true,"size":38,"opacity":1},"encoding":{"color":{"value":"#000"}}},
{"transform":[{"filter":"datum.m=='ci'"}],"mark":{"type":"point","shape":"circle","filled":true,"size":55,"opacity":1},"encoding":{"color":{"value":"#ffa500"}}},
{"transform":[{"filter":"datum.m=='pe'"}],"mark":{"type":"point","shape":"M0,-1L0.951,-0.309L0.588,0.809L-0.588,0.809L-0.951,-0.309Z","filled":true,"size":75,"opacity":1},"encoding":{"color":{"value":"#8b0000"}}},
{"transform":[{"filter":"datum.t=='s'"}],"mark":{"type":"point","shape":"M0,-1L0.2245,-0.309L0.951,-0.309L0.363,0.118L0.588,0.809L0,0.382L-0.588,0.809L-0.363,0.118L-0.951,-0.309L-0.2245,-0.309Z","filled":true,"size":250,"opacity":1},"encoding":{"color":{"value":"#000"},
"x":{"field":"x","type":"quantitative","scale":{"domain":[-0.88,1.74],"nice":false,"zero":false},"axis":{"orient":"top","title":null,"labels":false,"values":[-0.5,0,0.5,1,1.5]}},
"y":{"field":"y","type":"quantitative","scale":{"domain":[-3.8,-0.4],"nice":false,"zero":false},"axis":{"orient":"right","title":null,"labels":false,"values":[-3.5,-3,-2.5,-2,-1.5,-1,-0.5]}}}},
{"transform":[{"filter":"datum.t=='L'"}],"mark":{"type":"text","align":"right","baseline":"alphabetic","font":"Liberation Serif","fontSize":23},"encoding":{"text":{"field":"txt"},"color":{"value":"#000"}}}
]},
{"width":199,"height":176,"transform":[{"filter":"datum.p==4"}],
"resolve":{"axis":{"x":"independent","y":"independent"}},
"encoding":{
"x":{"field":"x","type":"quantitative","scale":{"domain":[-0.88,1.74],"nice":false,"zero":false},"axis":null},
"y":{"field":"y","type":"quantitative","scale":{"domain":[-3.8,-0.4],"nice":false,"zero":false},"axis":null},
"color":{"field":"k","type":"nominal","legend":null,"scale":{"domain":["u1","u2","u3","u4","u5","u6","u7","u8","u9","u10","gold","b1","b2","b3","b4","b5","b6","b7","g","ek","eo","er"],"range":["#1c1b5a","#272a88","#3830a6","#5232bd","#7433ab","#963494","#b83a76","#dc4352","#f15a2e","#f6811c","#e8a21f","#a9cfe8","#82b8df","#5a9fd2","#3887c3","#1f6cb0","#11539a","#0c326f","#9a9a9a","#000000","#ffa500","#a83232"]}}},
"layer":[
{"transform":[{"filter":"datum.k=='g'"}],"mark":{"type":"line","strokeWidth":2.4,"opacity":0.62,"clip":true},"encoding":{"detail":{"field":"s"},"order":{"value":null},
"x":{"field":"x","type":"quantitative","scale":{"domain":[-0.88,1.74],"nice":false,"zero":false},"axis":{"orient":"bottom","title":"log [O III]/[O II]","values":[-0.5,0,0.5,1,1.5],"format":".1f","labelExpr":"replace(datum.label,'−','-')"}},
"y":{"field":"y","type":"quantitative","scale":{"domain":[-3.8,-0.4],"nice":false,"zero":false},"axis":{"orient":"left","title":"log He IIλ1640/Hβ","values":[-3.5,-3,-2.5,-2,-1.5,-1,-0.5],"format":".1f","labelExpr":"replace(datum.label,'−','-')"}}}},
{"transform":[{"filter":"isValid(datum.s)&&indexof(datum.k,'b')==0"}],"mark":{"type":"line","strokeWidth":2.4,"clip":true,"interpolate":"catmull-rom"},"encoding":{"detail":{"field":"s"},"order":{"value":null}}},
{"transform":[{"filter":"isValid(datum.s)&&datum.k!='g'&&indexof(datum.k,'b')!=0"}],"mark":{"type":"line","strokeWidth":2.6,"clip":true,"interpolate":"catmull-rom"},"encoding":{"detail":{"field":"s"},"order":{"value":null}}},
{"transform":[{"filter":"datum.t=='e'"}],"mark":{"type":"rule","strokeWidth":1.2},"encoding":{"y2":{"field":"hi"}}},
{"transform":[{"filter":"datum.t=='c'"}],"mark":{"type":"tick","orient":"horizontal","size":6,"thickness":1.2}},
{"transform":[{"filter":"datum.m=='sq'"}],"mark":{"type":"point","shape":"square","filled":true,"size":38,"opacity":1},"encoding":{"color":{"value":"#000"}}},
{"transform":[{"filter":"datum.m=='ci'"}],"mark":{"type":"point","shape":"circle","filled":true,"size":55,"opacity":1},"encoding":{"color":{"value":"#ffa500"}}},
{"transform":[{"filter":"datum.m=='pe'"}],"mark":{"type":"point","shape":"M0,-1L0.951,-0.309L0.588,0.809L-0.588,0.809L-0.951,-0.309Z","filled":true,"size":75,"opacity":1},"encoding":{"color":{"value":"#8b0000"}}},
{"transform":[{"filter":"datum.t=='s'"}],"mark":{"type":"point","shape":"M0,-1L0.2245,-0.309L0.951,-0.309L0.363,0.118L0.588,0.809L0,0.382L-0.588,0.809L-0.363,0.118L-0.951,-0.309L-0.2245,-0.309Z","filled":true,"size":250,"opacity":1},"encoding":{"color":{"value":"#000"},
"x":{"field":"x","type":"quantitative","scale":{"domain":[-0.88,1.74],"nice":false,"zero":false},"axis":{"orient":"top","title":null,"labels":false,"values":[-0.5,0,0.5,1,1.5]}},
"y":{"field":"y","type":"quantitative","scale":{"domain":[-3.8,-0.4],"nice":false,"zero":false},"axis":{"orient":"right","title":null,"labels":false,"values":[-3.5,-3,-2.5,-2,-1.5,-1,-0.5]}}}},
{"transform":[{"filter":"datum.t=='L'"}],"mark":{"type":"text","align":"right","baseline":"alphabetic","font":"Liberation Serif","fontSize":23},"encoding":{"text":{"field":"txt"},"color":{"value":"#000"}}}
]},
{"width":199,"height":176,"transform":[{"filter":"datum.p==5"}],
"resolve":{"axis":{"x":"independent","y":"independent"}},
"encoding":{
"x":{"field":"x","type":"quantitative","scale":{"domain":[-0.88,1.74],"nice":false,"zero":false},"axis":null},
"y":{"field":"y","type":"quantitative","scale":{"domain":[-3.8,-0.4],"nice":false,"zero":false},"axis":null},
"color":{"field":"k","type":"nominal","legend":null,"scale":{"domain":["u1","u2","u3","u4","u5","u6","u7","u8","u9","u10","gold","b1","b2","b3","b4","b5","b6","b7","g","ek","eo","er"],"range":["#1c1b5a","#272a88","#3830a6","#5232bd","#7433ab","#963494","#b83a76","#dc4352","#f15a2e","#f6811c","#e8a21f","#a9cfe8","#82b8df","#5a9fd2","#3887c3","#1f6cb0","#11539a","#0c326f","#9a9a9a","#000000","#ffa500","#a83232"]}}},
"layer":[
{"transform":[{"filter":"datum.k=='g'"}],"mark":{"type":"line","strokeWidth":2.4,"opacity":0.62,"clip":true},"encoding":{"detail":{"field":"s"},"order":{"value":null},
"x":{"field":"x","type":"quantitative","scale":{"domain":[-0.88,1.74],"nice":false,"zero":false},"axis":{"orient":"bottom","title":"log [O III]/[O II]","values":[-0.5,0,0.5,1,1.5],"format":".1f","labelExpr":"replace(datum.label,'−','-')"}},
"y":{"field":"y","type":"quantitative","scale":{"domain":[-3.8,-0.4],"nice":false,"zero":false},"axis":{"orient":"left","title":null,"labels":false,"values":[-3.5,-3,-2.5,-2,-1.5,-1,-0.5]}}}},
{"transform":[{"filter":"isValid(datum.s)&&indexof(datum.k,'b')==0"}],"mark":{"type":"line","strokeWidth":2.4,"clip":true,"interpolate":"catmull-rom"},"encoding":{"detail":{"field":"s"},"order":{"value":null}}},
{"transform":[{"filter":"isValid(datum.s)&&datum.k!='g'&&indexof(datum.k,'b')!=0"}],"mark":{"type":"line","strokeWidth":2.6,"clip":true,"interpolate":"catmull-rom"},"encoding":{"detail":{"field":"s"},"order":{"value":null}}},
{"transform":[{"filter":"datum.t=='e'"}],"mark":{"type":"rule","strokeWidth":1.2},"encoding":{"y2":{"field":"hi"}}},
{"transform":[{"filter":"datum.t=='c'"}],"mark":{"type":"tick","orient":"horizontal","size":6,"thickness":1.2}},
{"transform":[{"filter":"datum.m=='sq'"}],"mark":{"type":"point","shape":"square","filled":true,"size":38,"opacity":1},"encoding":{"color":{"value":"#000"}}},
{"transform":[{"filter":"datum.m=='ci'"}],"mark":{"type":"point","shape":"circle","filled":true,"size":55,"opacity":1},"encoding":{"color":{"value":"#ffa500"}}},
{"transform":[{"filter":"datum.m=='pe'"}],"mark":{"type":"point","shape":"M0,-1L0.951,-0.309L0.588,0.809L-0.588,0.809L-0.951,-0.309Z","filled":true,"size":75,"opacity":1},"encoding":{"color":{"value":"#8b0000"}}},
{"transform":[{"filter":"datum.t=='s'"}],"mark":{"type":"point","shape":"M0,-1L0.2245,-0.309L0.951,-0.309L0.363,0.118L0.588,0.809L0,0.382L-0.588,0.809L-0.363,0.118L-0.951,-0.309L-0.2245,-0.309Z","filled":true,"size":250,"opacity":1},"encoding":{"color":{"value":"#000"},
"x":{"field":"x","type":"quantitative","scale":{"domain":[-0.88,1.74],"nice":false,"zero":false},"axis":{"orient":"top","title":null,"labels":false,"values":[-0.5,0,0.5,1,1.5]}},
"y":{"field":"y","type":"quantitative","scale":{"domain":[-3.8,-0.4],"nice":false,"zero":false},"axis":{"orient":"right","title":null,"labels":false,"values":[-3.5,-3,-2.5,-2,-1.5,-1,-0.5]}}}},
{"transform":[{"filter":"datum.t=='L'"}],"mark":{"type":"text","align":"right","baseline":"alphabetic","font":"Liberation Serif","fontSize":23},"encoding":{"text":{"field":"txt"},"color":{"value":"#000"}}}
]},
{"width":199,"height":176,"transform":[{"filter":"datum.p==6"}],
"resolve":{"axis":{"x":"independent","y":"independent"}},
"encoding":{
"x":{"field":"x","type":"quantitative","scale":{"domain":[-0.88,1.74],"nice":false,"zero":false},"axis":null},
"y":{"field":"y","type":"quantitative","scale":{"domain":[-3.8,-0.4],"nice":false,"zero":false},"axis":null},
"color":{"field":"k","type":"nominal","legend":null,"scale":{"domain":["u1","u2","u3","u4","u5","u6","u7","u8","u9","u10","gold","b1","b2","b3","b4","b5","b6","b7","g","ek","eo","er"],"range":["#1c1b5a","#272a88","#3830a6","#5232bd","#7433ab","#963494","#b83a76","#dc4352","#f15a2e","#f6811c","#e8a21f","#a9cfe8","#82b8df","#5a9fd2","#3887c3","#1f6cb0","#11539a","#0c326f","#9a9a9a","#000000","#ffa500","#a83232"]}}},
"layer":[
{"transform":[{"filter":"datum.k=='g'"}],"mark":{"type":"line","strokeWidth":2.4,"opacity":0.62,"clip":true},"encoding":{"detail":{"field":"s"},"order":{"value":null},
"x":{"field":"x","type":"quantitative","scale":{"domain":[-0.88,1.74],"nice":false,"zero":false},"axis":{"orient":"bottom","title":"log [O III]/[O II]","values":[-0.5,0,0.5,1,1.5],"format":".1f","labelExpr":"replace(datum.label,'−','-')"}},
"y":{"field":"y","type":"quantitative","scale":{"domain":[-3.8,-0.4],"nice":false,"zero":false},"axis":{"orient":"left","title":null,"labels":false,"values":[-3.5,-3,-2.5,-2,-1.5,-1,-0.5]}}}},
{"transform":[{"filter":"isValid(datum.s)&&indexof(datum.k,'b')==0"}],"mark":{"type":"line","strokeWidth":2.4,"clip":true,"interpolate":"catmull-rom"},"encoding":{"detail":{"field":"s"},"order":{"value":null}}},
{"transform":[{"filter":"isValid(datum.s)&&datum.k!='g'&&indexof(datum.k,'b')!=0"}],"mark":{"type":"line","strokeWidth":2.6,"clip":true,"interpolate":"catmull-rom"},"encoding":{"detail":{"field":"s"},"order":{"value":null}}},
{"transform":[{"filter":"datum.t=='e'"}],"mark":{"type":"rule","strokeWidth":1.2},"encoding":{"y2":{"field":"hi"}}},
{"transform":[{"filter":"datum.t=='c'"}],"mark":{"type":"tick","orient":"horizontal","size":6,"thickness":1.2}},
{"transform":[{"filter":"datum.m=='sq'"}],"mark":{"type":"point","shape":"square","filled":true,"size":38,"opacity":1},"encoding":{"color":{"value":"#000"}}},
{"transform":[{"filter":"datum.m=='ci'"}],"mark":{"type":"point","shape":"circle","filled":true,"size":55,"opacity":1},"encoding":{"color":{"value":"#ffa500"}}},
{"transform":[{"filter":"datum.m=='pe'"}],"mark":{"type":"point","shape":"M0,-1L0.951,-0.309L0.588,0.809L-0.588,0.809L-0.951,-0.309Z","filled":true,"size":75,"opacity":1},"encoding":{"color":{"value":"#8b0000"}}},
{"transform":[{"filter":"datum.t=='s'"}],"mark":{"type":"point","shape":"M0,-1L0.2245,-0.309L0.951,-0.309L0.363,0.118L0.588,0.809L0,0.382L-0.588,0.809L-0.363,0.118L-0.951,-0.309L-0.2245,-0.309Z","filled":true,"size":250,"opacity":1},"encoding":{"color":{"value":"#000"},
"x":{"field":"x","type":"quantitative","scale":{"domain":[-0.88,1.74],"nice":false,"zero":false},"axis":{"orient":"top","title":null,"labels":false,"values":[-0.5,0,0.5,1,1.5]}},
"y":{"field":"y","type":"quantitative","scale":{"domain":[-3.8,-0.4],"nice":false,"zero":false},"axis":{"orient":"right","title":null,"labels":false,"values":[-3.5,-3,-2.5,-2,-1.5,-1,-0.5]}}}},
{"transform":[{"filter":"datum.t=='L'"}],"mark":{"type":"text","align":"right","baseline":"alphabetic","font":"Liberation Serif","fontSize":23},"encoding":{"text":{"field":"txt"},"color":{"value":"#000"}}}
]}
],
"config":{
"view":{"stroke":"#000","strokeWidth":1},
"axis":{"domain":false,"grid":false,"tickSize":-4,"tickColor":"#000","tickWidth":1,"labelFont":"Liberation Serif","labelFontSize":10.5,"labelColor":"#000","labelPadding":8,"titleFont":"Liberation Serif","titleFontWeight":"normal","titleColor":"#000"},
"axisX":{"labelPadding":7,"titleFontSize":18.5,"titlePadding":2},
"axisY":{"titleFontSize":19.5,"titlePadding":3}
}
}
